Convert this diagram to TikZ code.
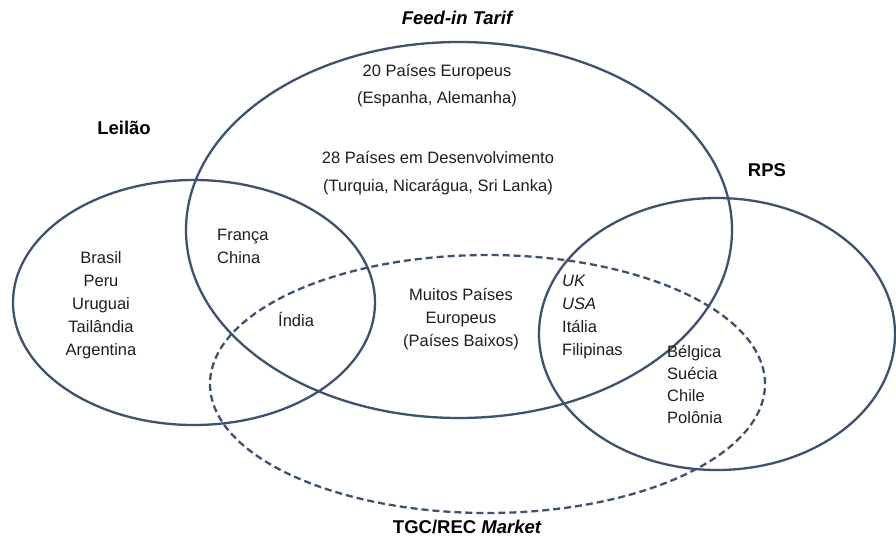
\documentclass[tikz,border=0pt]{standalone}
\usepackage{fontspec}
\setmainfont{Liberation Sans}
\usetikzlibrary{shapes.geometric}
\definecolor{ring}{RGB}{60,82,110}
\definecolor{ink}{RGB}{30,30,30}
\begin{document}
\begin{tikzpicture}[x=1pt,y=-1pt,
  setring/.style={ellipse, draw=ring, line width=2.3pt, inner sep=0pt},
  dashring/.style={setring, dash pattern=on 7pt off 4pt},
  title/.style={font=\fontsize{18.5}{22}\selectfont\bfseries, text=black, inner sep=0pt},
  body/.style={font=\fontsize{16.5}{23}\selectfont, text=ink, inner sep=0pt},
  wide/.style={font=\fontsize{16.5}{27.5}\selectfont, text=ink, inner sep=0pt},
]
\useasboundingbox (0,0) rectangle (896,541);
\fill[white] (0,0) rectangle (896,541);

% the four schemes
\node[setring, minimum width=362pt, minimum height=245pt] (leilao) at (194,302.5) {};
\node[setring, minimum width=546pt, minimum height=376pt] (feed) at (459,230) {};
\node[setring, minimum width=356pt, minimum height=272pt] (rps) at (717,334) {};
\node[dashring, minimum width=555pt, minimum height=258pt] (tgc) at (487.5,384) {};

% scheme names
\node[title] (tFeed) at (457,18) {\itshape Feed-in Tarif};
\node[title] (tLeilao) at (124,128) {Leilão};
\node[title] (tRps) at (767,170) {RPS};
\node[title] (tTgc) at (467,527) {TGC/REC \itshape Market};

% countries
\node[wide, align=center] (eu20) at (437,85.5) {20 Países Europeus\\(Espanha, Alemanha)};
\node[wide, align=center] (dev28) at (438,173) {28 Países em Desenvolvimento\\(Turquia, Nicarágua, Sri Lanka)};
\node[body, align=left, anchor=west] (fr) at (217,246.5) {França\\China};
\node[body, anchor=west] (india) at (278,319) {Índia};
\node[body, align=center] (muitos) at (461,319.5) {Muitos Países\\Europeus\\(Países Baixos)};
\node[body, align=center] (br) at (101,305) {Brasil\\Peru\\Uruguai\\Tailândia\\Argentina};
\node[body, align=left, anchor=west, font=\fontsize{16.5}{22.7}\selectfont] (uk) at (562,317) {\itshape UK\\\itshape USA\\Itália\\Filipinas};
\node[body, align=left, anchor=west, font=\fontsize{16.5}{22}\selectfont] (be) at (667,384) {Bélgica\\Suécia\\Chile\\Polônia};
\end{tikzpicture}
\end{document}
